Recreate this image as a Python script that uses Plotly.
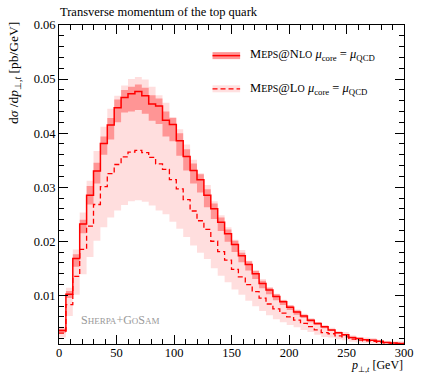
import plotly.graph_objects as go

bin_edges = [6 * i for i in range(51)]

nlo = [0.0035, 0.0102, 0.0168, 0.0232, 0.0285, 0.0330, 0.0381, 0.0415, 0.0447, 0.0466,
       0.0473, 0.0477, 0.0469, 0.0454, 0.0450, 0.0424, 0.0416, 0.0386, 0.0357, 0.0331,
       0.0314, 0.0285, 0.0260, 0.0235, 0.0214, 0.0194, 0.0173, 0.0157, 0.0140, 0.0122,
       0.0110, 0.0098, 0.0088, 0.0078, 0.0069, 0.0062, 0.0054, 0.0048, 0.0042, 0.0036,
       0.0031, 0.0027, 0.0022, 0.0020, 0.0018, 0.0017, 0.0015, 0.0013, 0.0012, 0.0011]
nlo_up = [0.0038, 0.0108, 0.0176, 0.0240, 0.0302, 0.0345, 0.0394, 0.0428, 0.0462, 0.0480,
          0.0486, 0.0490, 0.0484, 0.0470, 0.0464, 0.0440, 0.0428, 0.0400, 0.0370, 0.0344,
          0.0324, 0.0296, 0.0270, 0.0244, 0.0222, 0.0201, 0.0179, 0.0163, 0.0145, 0.0127,
          0.0114, 0.0102, 0.0091, 0.0081, 0.0072, 0.0064, 0.0056, 0.0050, 0.0044, 0.0037,
          0.0032, 0.0028, 0.0023, 0.0021, 0.0019, 0.0018, 0.0016, 0.0014, 0.0013, 0.0012]
nlo_down = [0.0031, 0.0095, 0.0153, 0.0215, 0.0268, 0.0307, 0.0360, 0.0388, 0.0420, 0.0438,
            0.0440, 0.0443, 0.0436, 0.0423, 0.0417, 0.0394, 0.0385, 0.0358, 0.0331, 0.0307,
            0.0290, 0.0263, 0.0241, 0.0219, 0.0199, 0.0180, 0.0161, 0.0146, 0.0130, 0.0113,
            0.0102, 0.0091, 0.0082, 0.0073, 0.0064, 0.0058, 0.0050, 0.0045, 0.0039, 0.0034,
            0.0029, 0.0025, 0.0020, 0.0019, 0.0017, 0.0016, 0.0014, 0.0012, 0.0011, 0.0010]

lo = [0.0030, 0.0083, 0.0135, 0.0185, 0.0228, 0.0268, 0.0301, 0.0325, 0.0342, 0.0356,
      0.0365, 0.0368, 0.0364, 0.0355, 0.0343, 0.0333, 0.0314, 0.0297, 0.0277, 0.0256,
      0.0238, 0.0222, 0.0200, 0.0181, 0.0165, 0.0148, 0.0134, 0.0120, 0.0107, 0.0095,
      0.0084, 0.0075, 0.0067, 0.0060, 0.0054, 0.0048, 0.0042, 0.0036, 0.0031, 0.0029,
      0.0025, 0.0023, 0.0019, 0.0017, 0.0016, 0.0015, 0.0013, 0.0012, 0.0011, 0.0011]
lo_up = [0.0042, 0.0114, 0.0185, 0.0253, 0.0312, 0.0367, 0.0412, 0.0445, 0.0469, 0.0488,
         0.0500, 0.0504, 0.0499, 0.0486, 0.0470, 0.0456, 0.0430, 0.0407, 0.0379, 0.0351,
         0.0326, 0.0304, 0.0274, 0.0248, 0.0226, 0.0203, 0.0184, 0.0164, 0.0147, 0.0130,
         0.0115, 0.0103, 0.0092, 0.0082, 0.0074, 0.0066, 0.0058, 0.0049, 0.0042, 0.0040,
         0.0034, 0.0032, 0.0026, 0.0023, 0.0022, 0.0021, 0.0018, 0.0016, 0.0015, 0.0015]
lo_down = [0.0022, 0.0062, 0.0101, 0.0139, 0.0171, 0.0201, 0.0226, 0.0244, 0.0257, 0.0267,
           0.0274, 0.0276, 0.0273, 0.0266, 0.0257, 0.0250, 0.0236, 0.0223, 0.0208, 0.0192,
           0.0179, 0.0167, 0.0150, 0.0136, 0.0124, 0.0111, 0.0101, 0.0090, 0.0080, 0.0071,
           0.0063, 0.0056, 0.0050, 0.0045, 0.0041, 0.0036, 0.0032, 0.0027, 0.0023, 0.0022,
           0.0019, 0.0017, 0.0014, 0.0013, 0.0012, 0.0011, 0.0010, 0.0009, 0.0008, 0.0008]

x_ticks = [0, 50, 100, 150, 200, 250, 300]
y_ticks = [0.01, 0.02, 0.03, 0.04, 0.05, 0.06]

RED = "#ff0000"
LIGHT = "rgba(255,0,0,0.13)"
DARK = "rgba(255,0,0,0.33)"
FONT = "Liberation Serif"


def step(vals):
    return list(vals) + [vals[-1]]


fig = go.Figure()


def band(lo_vals, hi_vals, color):
    fig.add_trace(go.Scatter(x=bin_edges, y=step(lo_vals), mode="lines",
                             line=dict(width=0, shape="hv"), hoverinfo="skip",
                             showlegend=False))
    fig.add_trace(go.Scatter(x=bin_edges, y=step(hi_vals), mode="lines",
                             line=dict(width=0, shape="hv"), fill="tonexty",
                             fillcolor=color, hoverinfo="skip", showlegend=False))


band(lo_down, lo_up, LIGHT)
band(nlo_down, nlo_up, DARK)

fig.add_trace(go.Scatter(x=bin_edges, y=step(lo), mode="lines",
                         line=dict(color=RED, width=1.3, shape="hv", dash="5px,3px"),
                         showlegend=False))
fig.add_trace(go.Scatter(x=bin_edges, y=step(nlo), mode="lines",
                         line=dict(color=RED, width=1.5, shape="hv"),
                         showlegend=False))

axis_common = dict(showline=True, linecolor="black", linewidth=1, mirror="allticks",
                   ticks="inside", tickcolor="black", showgrid=False, zeroline=False,
                   tickfont=dict(family=FONT, size=12.5, color="black"))

fig.update_xaxes(range=[0, 300], tickvals=x_ticks, ticklen=9, ticklabelstandoff=-3,
                 minor=dict(dtick=10, tick0=0, ticks="inside", ticklen=5, tickcolor="black"),
                 **axis_common)
fig.update_yaxes(range=[0.001, 0.06], tickvals=y_ticks, tickformat=".2f", ticklen=9,
                 minor=dict(dtick=0.002, tick0=0, ticks="inside", ticklen=5, tickcolor="black"),
                 **axis_common)

sc = "font-size:10px"
nlo_label = (f"M<span style='{sc}'>EPS</span>@N<span style='{sc}'>LO</span> "
             "<i>μ</i><sub>core</sub> = <i>μ</i><sub>QCD</sub>")
lo_label = (f"M<span style='{sc}'>EPS</span>@L<span style='{sc}'>O</span> "
            "<i>μ</i><sub>core</sub> = <i>μ</i><sub>QCD</sub>")

annotations = [
    dict(text="Transverse momentum of the top quark", xref="paper", yref="paper",
         x=-0.003, y=1.0, yshift=4, xanchor="left", yanchor="bottom", showarrow=False,
         font=dict(family=FONT, size=12.5, color="black")),
    dict(text="d<i>σ</i> /d<i>p</i><sub>⊥,<i>t</i></sub> [pb/GeV]", xref="paper", yref="paper",
         x=0, y=1.0, xshift=-45, yshift=5, xanchor="center", yanchor="top", textangle=-90,
         showarrow=False, font=dict(family=FONT, size=13.5, color="black")),
    dict(text="<i>p</i><sub>⊥,<i>t</i></sub> [GeV]", xref="paper", yref="paper",
         x=1.0, y=-0.097, xanchor="right", yanchor="bottom", showarrow=False,
         borderpad=0, font=dict(family=FONT, size=12, color="black")),
    dict(text=f"S<span style='font-size:9px'>HERPA</span>+G<span style='font-size:9px'>O</span>S<span style='font-size:9px'>AM</span>",
         xref="paper", yref="paper", x=0.058, y=0.074, xanchor="left", yanchor="middle",
         showarrow=False, font=dict(family=FONT, size=12, color="#999999")),
    dict(text=nlo_label, xref="paper", yref="paper", x=0.547, y=0.905, xanchor="left",
         yanchor="middle", showarrow=False, font=dict(family=FONT, size=12.5, color="black")),
    dict(text=lo_label, xref="paper", yref="paper", x=0.547, y=0.80, xanchor="left",
         yanchor="middle", showarrow=False, font=dict(family=FONT, size=12.5, color="black")),
]

shapes = [
    dict(type="rect", xref="paper", yref="paper", x0=0.445, x1=0.525, y0=0.893, y1=0.915,
         fillcolor="rgba(255,150,150,1)", line=dict(width=0)),
    dict(type="line", xref="paper", yref="paper", x0=0.445, x1=0.525, y0=0.904, y1=0.904,
         line=dict(color=RED, width=1.5)),
    dict(type="rect", xref="paper", yref="paper", x0=0.445, x1=0.525, y0=0.789, y1=0.811,
         fillcolor="rgba(255,224,224,1)", line=dict(width=0)),
    dict(type="line", xref="paper", yref="paper", x0=0.445, x1=0.525, y0=0.80, y1=0.80,
         line=dict(color=RED, width=1.3, dash="5px,3px")),
]

fig.update_layout(width=423, height=376, margin=dict(l=59, r=10, t=25, b=32),
                  paper_bgcolor="white", plot_bgcolor="white", showlegend=False,
                  annotations=annotations, shapes=shapes,
                  font=dict(family=FONT, color="black"))

fig.write_html("out.html")
